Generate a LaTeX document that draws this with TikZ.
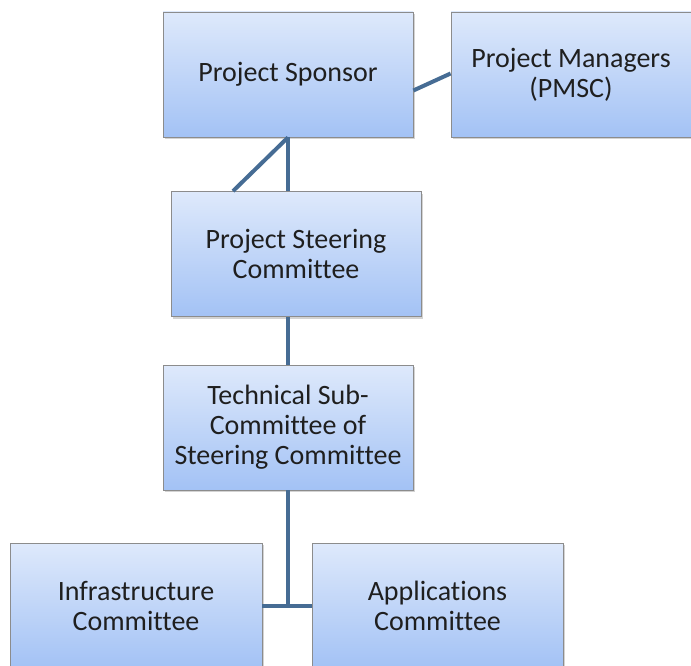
\documentclass[tikz,border=0pt]{standalone}
\usepackage{fontspec}
\setmainfont{Carlito}[Ligatures=CommonOff]
\usetikzlibrary{shadows}

\definecolor{boxtop}{RGB}{222,233,251}
\definecolor{boxbot}{RGB}{163,194,245}
\definecolor{linkblue}{RGB}{70,108,148}

\begin{document}
\begin{tikzpicture}[x=1pt,y=-1pt,
    box/.style={draw=black!45, line width=0.8pt, top color=boxtop, bottom color=boxbot,
      minimum width=250pt, minimum height=125pt, align=center, text=black!88,
      font=\fontsize{28}{30}\selectfont,
      drop shadow={shadow xshift=2pt, shadow yshift=-2pt, opacity=0.35}},
    link/.style={draw=linkblue, line width=4pt}]
    \useasboundingbox (0,0) rectangle (691,666);
    % Boxes
    \node[box] (sponsor) at (288,74.5) {Project Sponsor};
    \node[box, minimum width=240pt] (managers) at (571,74.5) {Project Managers\\(PMSC)};
    \node[box] (steering) at (296,254) {Project Steering\\Committee};
    \node[box] (technical) at (288,427.5) {Technical Sub-\\Committee of\\Steering Committee};
    \node[box, minimum width=252pt] (infra) at (136,605.5) {Infrastructure\\Committee};
    \node[box, minimum width=251pt] (apps) at (437.5,605.5) {Applications\\Committee};
    % Links
    \draw[link] ([yshift=-16pt]sponsor.east) -- ([yshift=1pt]managers.west);
    \draw[link] (sponsor.south) -- (sponsor.south |- steering.north);
    \draw[link] (sponsor.south) -- ([xshift=-63pt]steering.north);
    \draw[link] (steering.south -| technical.north) -- (technical.north);
    \draw[link] (technical.south) -- (technical.south |- infra.east);
    \draw[link] (infra.east) -- (apps.west);
\end{tikzpicture}
\end{document}
